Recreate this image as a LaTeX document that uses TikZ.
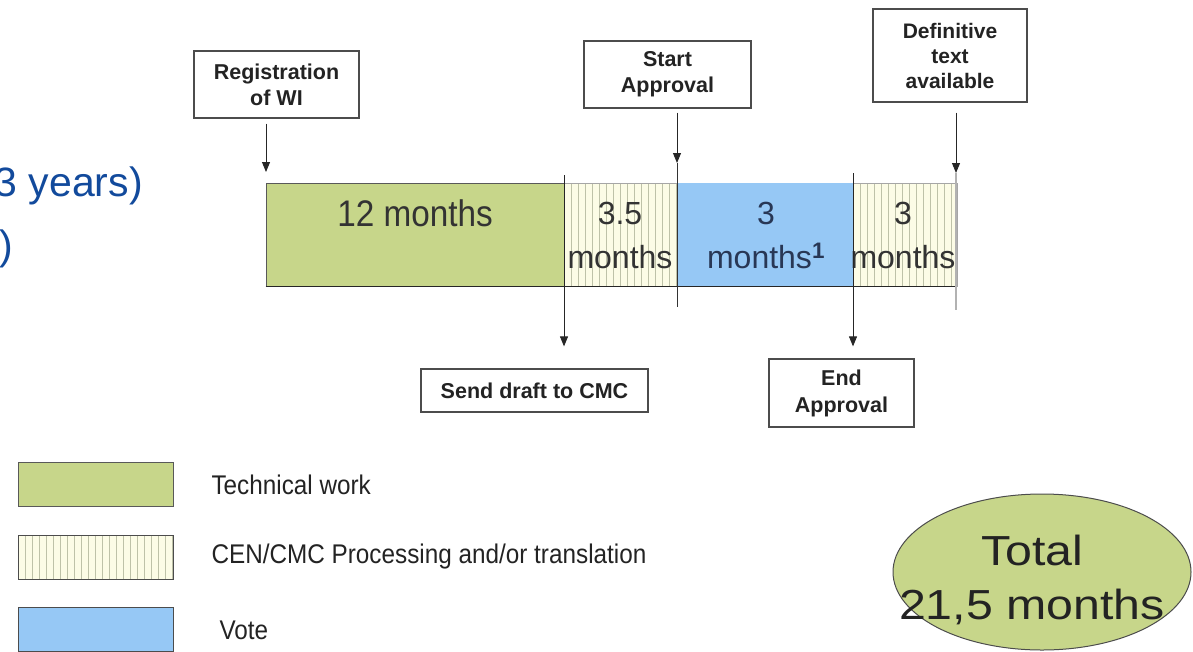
\documentclass[tikz,border=0pt]{standalone}
\usepackage{fontspec}
\setmainfont{Liberation Sans}
\newfontfamily\narrowsans[FakeStretch=0.9]{Liberation Sans}
\newfontfamily\widesans[FakeStretch=1.15]{Liberation Sans}
\usetikzlibrary{arrows.meta,shapes.geometric}
\definecolor{techgreen}{RGB}{199,214,138}
\definecolor{voteblue}{RGB}{150,200,245}
\definecolor{cream}{RGB}{252,252,230}
\definecolor{stripeg}{RGB}{190,194,168}
\definecolor{titleblue}{RGB}{18,74,156}
\definecolor{txt}{RGB}{35,35,35}
\begin{document}
\begin{tikzpicture}[x=1pt,y=-1pt,
  tlbox/.style={draw=black!70, line width=1.2pt, fill=white, align=center, inner sep=0pt,
    font=\fontsize{21.5}{26}\selectfont\bfseries, text=txt},
  seg/.style={inner sep=0pt, minimum height=103pt, line width=0.8pt},
  greenseg/.style={seg, fill=techgreen, draw=black!65},
  blueseg/.style={seg, fill=voteblue, draw=none},
  stripeseg/.style={seg, fill=cream, draw=black!35,
    path picture={\foreach \k in {1,...,30}{\draw[stripeg, line width=0.8pt]
      ([xshift=\k*7pt]path picture bounding box.south west) --
      ([xshift=\k*7pt]path picture bounding box.north west);}}},
  arr/.style={-{Triangle[length=10pt,width=8pt]}, line width=0.9pt, black!85},
  vline/.style={line width=0.9pt, black!80},
  gline/.style={line width=1.2pt, black!30},
  segtext/.style={align=center, font=\fontsize{32}{44}\selectfont, text=black!80},
  legtext/.style={anchor=west, font=\narrowsans\fontsize{27}{30}\selectfont, text=txt}]
\useasboundingbox (0,0) rectangle (1193,651);

% left blue text (cut at the left edge, as in the reference)
\node[anchor=base east, font=\fontsize{41}{48}\selectfont, text=titleblue, inner sep=0pt] (yrs) at (143,196) {3 years)};
\node[anchor=base east, font=\fontsize{41}{48}\selectfont, text=titleblue, inner sep=0pt] (par) at (13,259.5) {)};

% timeline boxes
\node[tlbox, minimum width=165pt, minimum height=67pt] (reg) at (276.5,84.5) {Registration\\of WI};
\node[tlbox, minimum width=167pt, minimum height=67pt] (start) at (667.5,74.5) {Start\\Approval};
\node[tlbox, minimum width=154pt, minimum height=93pt, font=\fontsize{21}{25}\selectfont\bfseries] (def) at (950,55.5) {Definitive\\text\\available};
\node[tlbox, minimum width=227pt, minimum height=43pt] (send) at (534.5,390.5) {Send draft to CMC};
\node[tlbox, minimum width=145pt, minimum height=68pt, font=\fontsize{21.5}{27}\selectfont\bfseries] (end) at (841.5,393) {End\\Approval};

% bar segments
\node[greenseg, minimum width=298pt] (s1) at (415,234.5) {};
\node[stripeseg, minimum width=113pt] (s2) at (620.5,234.5) {};
\node[blueseg, minimum width=176pt] (s3) at (765,234.5) {};
\node[stripeseg, minimum width=104pt] (s4) at (905,234.5) {};
\draw[black!85, line width=1pt] (s1.south west) -- (s4.south east);

\node[segtext, font=\narrowsans\fontsize{37}{40}\selectfont] (t1) at (415,213) {12 months};
\node[segtext] (t2) at (620,235) {3.5\\months};
\node[segtext, text={rgb,255:red,40;green,55;blue,85}] (t3) at (766,235) {3\\months\textsuperscript{\bfseries 1}};
\node[segtext] (t4) at (903,235) {3\\months};

% connectors
\coordinate (v0) at (266,172);
\coordinate (v1) at (564,175);
\coordinate (v2) at (677,163);
\coordinate (v2b) at (677,307);
\coordinate (v3) at (853,173);
\coordinate (v4) at (956,173);
\coordinate (v4b) at (956,310);

\draw[arr, shorten <=5pt] (reg.south -| v0) -- (v0);
\draw[arr, shorten <=4pt] (start.south -| v2) -- (v2);
\draw[vline] (v2) -- (v2b);
\draw[arr, shorten <=10pt] (def.south -| v4) -- (v4);
\draw[gline] (v4) -- (v4b);
\draw[arr, shorten >=22pt] (v1) -- (v1 |- send.north);
\draw[arr, shorten >=12pt] (v3) -- (v3 |- end.north);

% legend
\node[greenseg, minimum width=155pt, minimum height=44pt] (lg1) at (95.5,484) {};
\node[stripeseg, draw=black!70, minimum width=155pt, minimum height=44pt] (lg2) at (95.5,557) {};
\node[blueseg, draw=black!70, minimum width=155pt, minimum height=44pt] (lg3) at (95.5,629) {};
\node[legtext] (lt1) at (208,485) {Technical work};
\node[legtext] (lt2) at (208,557) {CEN/CMC Processing and/or translation};
\node[legtext] (lt3) at (216,630) {Vote};

% total
\node[ellipse, draw=black!70, line width=1pt, fill=techgreen, minimum width=298pt, minimum height=156pt, inner sep=0pt] (tot) at (1042,572) {};
\node[align=center, font=\widesans\fontsize{42}{54}\selectfont, text=txt] (totlbl) at (1032,580) {Total\\21,5 months};
\end{tikzpicture}
\end{document}
